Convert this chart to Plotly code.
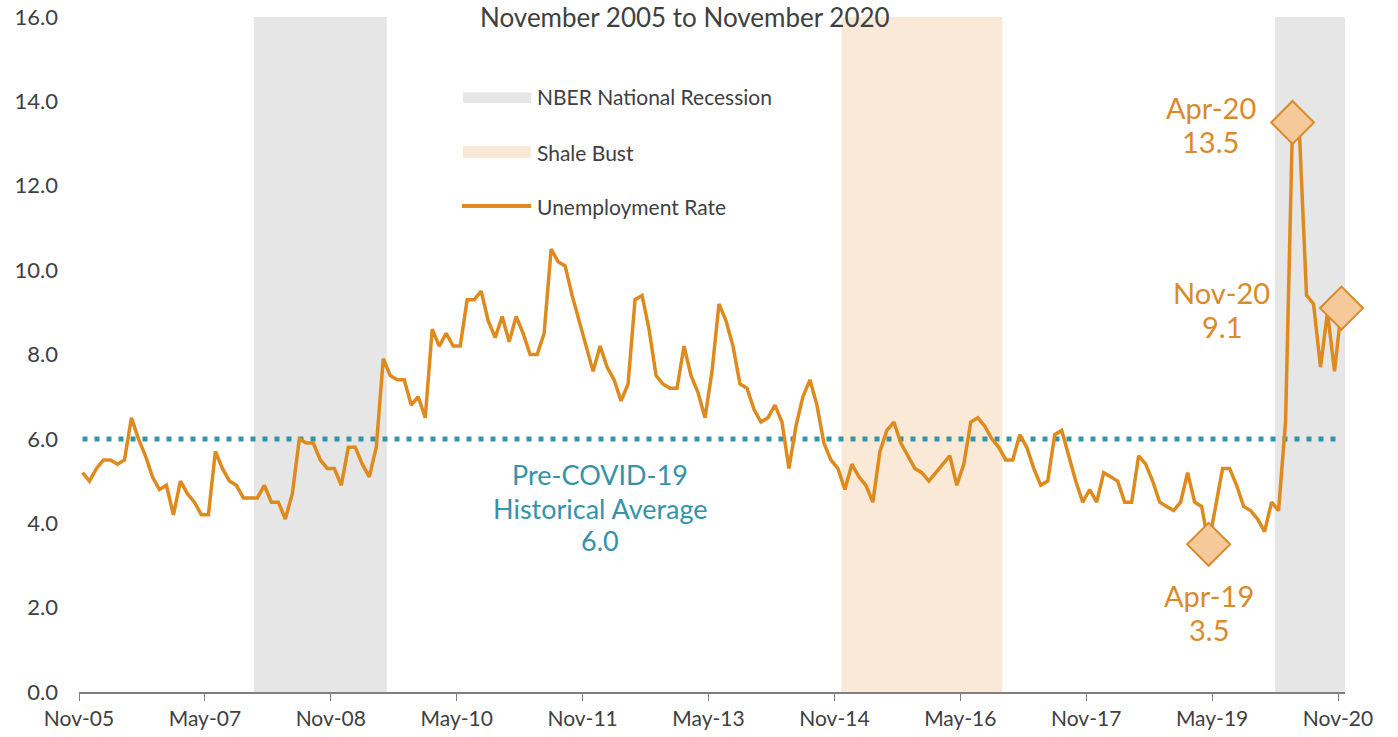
import plotly.graph_objects as go

# monthly unemployment rate, Nov-05 .. Nov-20
rate = [
    5.2, 5.0, 5.3, 5.5, 5.5, 5.4, 5.5, 6.5, 6.0, 5.6, 5.1, 4.8, 4.9, 4.2, 5.0, 4.7,
    4.5, 4.2, 4.2, 5.7, 5.3, 5.0, 4.9, 4.6, 4.6, 4.6, 4.9, 4.5, 4.5, 4.1, 4.7, 6.0,
    5.9, 5.9, 5.5, 5.3, 5.3, 4.9, 5.8, 5.8, 5.4, 5.1, 5.8, 7.9, 7.5, 7.4, 7.4, 6.8,
    7.0, 6.5, 8.6, 8.2, 8.5, 8.2, 8.2, 9.3, 9.3, 9.5, 8.8, 8.4, 8.9, 8.3, 8.9, 8.5,
    8.0, 8.0, 8.5, 10.5, 10.2, 10.1, 9.4, 8.8, 8.2, 7.6, 8.2, 7.7, 7.4, 6.9, 7.3, 9.3,
    9.4, 8.6, 7.5, 7.3, 7.2, 7.2, 8.2, 7.5, 7.1, 6.5, 7.6, 9.2, 8.8, 8.2, 7.3, 7.2,
    6.7, 6.4, 6.5, 6.8, 6.4, 5.3, 6.3, 7.0, 7.4, 6.8, 5.9, 5.5, 5.3, 4.8, 5.4, 5.1,
    4.9, 4.5, 5.7, 6.2, 6.4, 5.9, 5.6, 5.3, 5.2, 5.0, 5.2, 5.4, 5.6, 4.9, 5.4, 6.4,
    6.5, 6.3, 6.0, 5.8, 5.5, 5.5, 6.1, 5.8, 5.3, 4.9, 5.0, 6.1, 6.2, 5.6, 5.0, 4.5,
    4.8, 4.5, 5.2, 5.1, 5.0, 4.5, 4.5, 5.6, 5.4, 5.0, 4.5, 4.4, 4.3, 4.5, 5.2, 4.5,
    4.4, 3.5, 4.4, 5.3, 5.3, 4.9, 4.4, 4.3, 4.1, 3.8, 4.5, 4.3, 6.4, 13.5, 13.2, 9.4,
    9.2, 7.7, 9.0, 7.6, 9.1,
]
pre_covid_avg = 6.0

mon = ["Jan", "Feb", "Mar", "Apr", "May", "Jun", "Jul", "Aug", "Sep", "Oct", "Nov", "Dec"]
months = []
for k in range(len(rate)):
    m = 10 + k
    months.append("%s-%02d" % (mon[m % 12], 5 + m // 12))
idx = list(range(len(rate)))

tick_labels = ["Nov-05", "May-07", "Nov-08", "May-10", "Nov-11", "May-13",
               "Nov-14", "May-16", "Nov-17", "May-19", "Nov-20"]
tick_pos = [-0.5 + 18 * k for k in range(len(tick_labels))]

# shaded periods (first month, last month)
recessions = [("Dec-07", "Jun-09"), ("Feb-20", "Nov-20")]
shale_bust = [("Dec-14", "Oct-16")]

callouts = ["Apr-19", "Apr-20", "Nov-20"]

ORANGE = "#DF8A1C"
LABEL_OR = "#D98A2B"
TEAL = "#3593A8"
GREY_TXT = "#404040"
FONT = "Lato, sans-serif"

L, R, T, B = 79, 53, 17, 45
W, H = 1398, 737


def px(x):
    return (x - L) / (W - L - R)


def py(y):
    return (H - B - y) / (H - T - B)


fig = go.Figure()

for a, b in recessions:
    fig.add_shape(type="rect", xref="x", yref="y", layer="below",
                  x0=months.index(a) - 0.5, x1=months.index(b) + 0.5, y0=0, y1=16,
                  fillcolor="#E6E6E6", line_width=0)
for a, b in shale_bust:
    fig.add_shape(type="rect", xref="x", yref="y", layer="below",
                  x0=months.index(a) - 0.5, x1=months.index(b) + 0.5, y0=0, y1=16,
                  fillcolor="#F9E9D6", line_width=0)

fig.add_trace(go.Scatter(
    x=idx, y=[pre_covid_avg] * len(idx), mode="lines",
    line=dict(color=TEAL, width=5, dash="5px,7px"), hoverinfo="skip"))

fig.add_trace(go.Scatter(
    x=idx, y=rate, mode="lines", text=months,
    line=dict(color=ORANGE, width=3.5)))

ci = [months.index(c) for c in callouts]
fig.add_trace(go.Scatter(
    x=ci, y=[rate[i] for i in ci], mode="markers", cliponaxis=False,
    marker=dict(symbol="diamond", size=33, color="#F5C999",
                line=dict(color=LABEL_OR, width=2))))

# callout labels: (xshift, yshift of first line, yshift of second line)
offsets = {"Apr-19": (0, -51, -85), "Apr-20": (-82, 15, -19), "Nov-20": (-120, 16, -18)}
for c, i in zip(callouts, ci):
    dx, dy1, dy2 = offsets[c]
    for txt, dy in [(c, dy1), ("%.1f" % rate[i], dy2)]:
        fig.add_annotation(x=i, y=rate[i], xshift=dx, yshift=dy, showarrow=False,
                           text=txt, font=dict(family=FONT, size=29, color=LABEL_OR))

for txt, dy in [("Pre-COVID-19", -36), ("Historical Average", -70),
                ("%.1f" % pre_covid_avg, -102)]:
    fig.add_annotation(x=74, y=pre_covid_avg, yshift=dy, showarrow=False, text=txt,
                       font=dict(family=FONT, size=27, color=TEAL))

# title at the very top edge
fig.add_annotation(xref="paper", yref="paper", x=px(685), y=py(0), yanchor="top",
                   showarrow=False, borderpad=0,
                   text="November 2005 to November 2020",
                   font=dict(family=FONT, size=26, color=GREY_TXT))

# legend
fig.add_shape(type="rect", xref="paper", yref="paper", x0=px(463), x1=px(531),
              y0=py(103), y1=py(92.5), fillcolor="#E6E6E6", line_width=0)
fig.add_shape(type="rect", xref="paper", yref="paper", x0=px(463), x1=px(531),
              y0=py(158), y1=py(146), fillcolor="#F9E9D6", line_width=0)
fig.add_shape(type="line", xref="paper", yref="paper", x0=px(462), x1=px(531),
              y0=py(206), y1=py(206), line=dict(color=ORANGE, width=4))
for txt, y in [("NBER National Recession", 97), ("Shale Bust", 152.5),
               ("Unemployment Rate", 206)]:
    fig.add_annotation(xref="paper", yref="paper", x=px(535), y=py(y),
                       xanchor="left", yanchor="middle", showarrow=False, text=txt,
                       font=dict(family=FONT, size=21, color=GREY_TXT))

fig.update_layout(
    width=W, height=H,
    margin=dict(l=L, r=R, t=T, b=B, autoexpand=False),
    paper_bgcolor="white", plot_bgcolor="white",
    showlegend=False,
    font=dict(family=FONT, size=21, color=GREY_TXT),
    xaxis=dict(range=[-0.5, 180.5], tickvals=tick_pos, ticktext=tick_labels,
               showgrid=False, zeroline=False, showline=True, linecolor="#7F7F7F",
               linewidth=1.5, ticks="outside", ticklen=7, tickcolor="#7F7F7F",
               automargin=False, tickfont=dict(size=21, color=GREY_TXT)),
    yaxis=dict(range=[0, 16], dtick=2, tickformat=".1f", showgrid=False,
               zeroline=False, showline=False, ticklabelstandoff=20, automargin=False,
               tickfont=dict(size=22, color=GREY_TXT)),
)

fig.write_html("out.html", config={"displayModeBar": False},
               post_script="document.body.style.margin='0';")
